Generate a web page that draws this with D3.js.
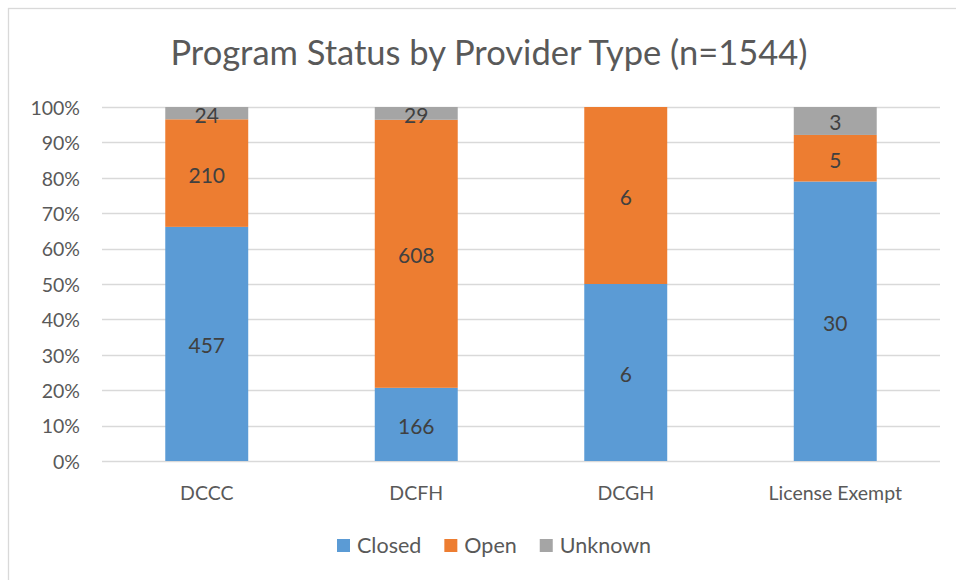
<!DOCTYPE html>
<meta charset="utf-8">
<style>
body { margin: 0; background: #fff; }
text { font-family: Lato, "Open Sans", sans-serif; fill: #595959; }
.grid line { stroke: #d9d9d9; stroke-width: 1.3; }
.label { fill: #404040; }
</style>
<svg width="956" height="580"></svg>
<script src="https://d3js.org/d3.v7.min.js"></script>
<script>

var categories = ["DCCC", "DCFH", "DCGH", "License Exempt"];
var seriesNames = ["Closed", "Open", "Unknown"];
var closedCounts = [457, 166, 6, 30];
var openCounts = [210, 608, 6, 5];
var unknownCounts = [24, 29, 0, 3];
var yTicks = [0, 0.1, 0.2, 0.3, 0.4, 0.5, 0.6, 0.7, 0.8, 0.9, 1];
var colors = ["#5b9bd5", "#ed7d31", "#a5a5a5"];

var svg = d3.select("svg");

// chart frame (runs off the right/bottom like the source)
svg.append("rect")
    .attr("x", 8.5).attr("y", 8.5)
    .attr("width", 1000).attr("height", 1000)
    .attr("fill", "none").attr("stroke", "#d9d9d9").attr("stroke-width", 1.3);

var plotLeft = 102, plotRight = 940, plotTop = 107, plotBottom = 461;

var x = d3.scaleBand().domain(categories).range([plotLeft, plotRight]).paddingInner(0.604).paddingOuter(0.302);
var y = d3.scaleLinear().domain([0, 1]).range([plotBottom, plotTop]);

var rows = categories.map(function(c, i) {
  var total = closedCounts[i] + openCounts[i] + unknownCounts[i];
  return { cat: c,
           Closed: closedCounts[i] / total, Open: openCounts[i] / total, Unknown: unknownCounts[i] / total,
           raw: { Closed: closedCounts[i], Open: openCounts[i], Unknown: unknownCounts[i] } };
});

var stack = d3.stack().keys(seriesNames)(rows);

// gridlines
svg.append("g").attr("class", "grid")
  .selectAll("line").data(yTicks).enter().append("line")
    .attr("x1", plotLeft).attr("x2", plotRight)
    .attr("y1", function(d) { return Math.round(y(d)) + 0.5; })
    .attr("y2", function(d) { return Math.round(y(d)) + 0.5; });

// y axis labels
var yAxis = svg.append("g")
    .attr("transform", "translate(" + (plotLeft - 22) + ",1)")
    .call(d3.axisLeft(y).tickValues(yTicks).tickFormat(d3.format(".0%")).tickSize(0).tickPadding(0));
yAxis.select(".domain").remove();
yAxis.selectAll("text").attr("font-size", 19.5).attr("fill", "#595959").style("font-family", "Lato, sans-serif");

// x axis labels
var xAxis = svg.append("g")
    .attr("transform", "translate(0," + plotBottom + ")")
    .call(d3.axisBottom(x).tickSize(0).tickPadding(25));
xAxis.select(".domain").remove();
xAxis.selectAll("text").attr("font-size", 19.5).attr("fill", "#595959").style("font-family", "Lato, sans-serif");

// bars
var layer = svg.selectAll(".layer").data(stack).enter().append("g")
    .attr("class", "layer")
    .attr("fill", function(d, i) { return colors[i]; });

layer.selectAll("rect").data(function(d) { return d; }).enter().append("rect")
    .attr("x", function(d) { return x(d.data.cat); })
    .attr("width", x.bandwidth())
    .attr("y", function(d) { return y(d[1]); })
    .attr("height", function(d) { return y(d[0]) - y(d[1]); });

// data labels
stack.forEach(function(s) {
  svg.append("g").selectAll("text").data(s.filter(function(d) { return d.data.raw[s.key] > 0; }))
    .enter().append("text")
      .attr("class", "label")
      .attr("x", function(d) { return x(d.data.cat) + x.bandwidth() / 2; })
      .attr("y", function(d) { return (y(d[0]) + y(d[1])) / 2; })
      .attr("dy", "0.45em")
      .attr("text-anchor", "middle")
      .attr("font-size", 21)
      .text(function(d) { return d.data.raw[s.key]; });
});

// title
svg.append("text")
    .attr("x", 489).attr("y", 65)
    .attr("text-anchor", "middle")
    .attr("font-size", 34.5)
    .text("Program Status by Provider Type (n=1544)");

// legend
var lx = 337;
seriesNames.forEach(function(name, i) {
  svg.append("rect").attr("x", lx).attr("y", 539).attr("width", 13).attr("height", 13).attr("fill", colors[i]);
  var t = svg.append("text").attr("x", lx + 20).attr("y", 553).attr("font-size", 21.5).text(name);
  lx += 20 + t.node().getComputedTextLength() + 23;
});

</script>
